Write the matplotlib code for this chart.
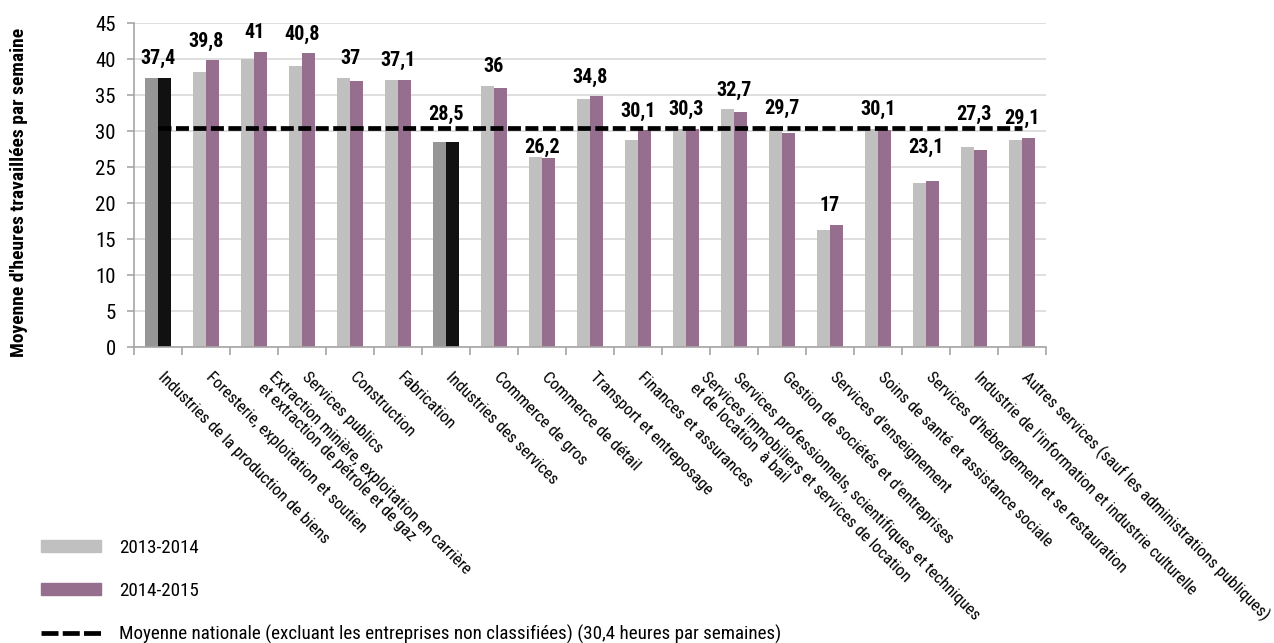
import matplotlib

matplotlib.use("Agg")

import matplotlib.pyplot as plt
import matplotlib.font_manager as fm
import numpy as np
from matplotlib.lines import Line2D
from matplotlib.patches import Patch


categories = [
    "Industries de la production de biens",
    "Foresterie, exploitation et soutien",
    "Extraction minière, exploitation en carrière\net extraction de pétrole et de gaz",
    "Services publics",
    "Construction",
    "Fabrication",
    "Industries des services",
    "Commerce de gros",
    "Commerce de détail",
    "Transport et entreposage",
    "Finances et assurances",
    "Services immobiliers et services de location\net de location  à bail",
    "Services professionnels, scientifiques et techniques",
    "Gestion de sociétés et d'entreprises",
    "Services d'enseignement",
    "Soins de santé et assistance sociale",
    "Services d'hébergement et se restauration",
    "Industrie de l'information et industrie culturelle",
    "Autres services (sauf les administrations publiques)",
]
hours_2013 = [37.4, 38.2, 40.0, 39.0, 37.4, 37.1, 28.5, 36.3, 26.4, 34.4,
              28.7, 30.3, 33.0, 30.5, 16.2, 30.3, 22.8, 27.8, 28.8]
hours_2014 = [37.4, 39.8, 41.0, 40.8, 37.0, 37.1, 28.5, 36.0, 26.2, 34.8,
              30.1, 30.3, 32.7, 29.7, 17.0, 30.1, 23.1, 27.3, 29.1]
aggregates = ["Industries de la production de biens", "Industries des services"]
national_avg = 30.4


def pick_font():
    # want a narrow family with a real (static) bold face
    faces = {}
    for f in fm.fontManager.ttflist:
        if "[" in f.fname:
            continue
        faces.setdefault(f.name, set()).add(f.weight)
    for name in ("Roboto Condensed", "PT Sans Narrow", "Asap Condensed",
                 "Archivo Narrow", "Barlow Semi Condensed"):
        w = faces.get(name, set())
        if 400 in w and 700 in w:
            return name
    return "DejaVu Sans"


FONT = pick_font()
plt.rcParams["font.family"] = [FONT, "DejaVu Sans"]

C_GRAY = "#C0C0C0"
C_PURPLE = "#966E8E"
C_DGRAY = "#969696"
C_BLACK = "#111111"


def main():
    fig = plt.figure(figsize=(12.74, 6.43), dpi=100)
    ax = fig.add_axes([0.1052, 0.4603, 0.7158, 0.5039])

    x = np.arange(len(categories))
    w = 0.28
    is_agg = [c in aggregates for c in categories]
    c13 = [C_DGRAY if a else C_GRAY for a in is_agg]
    c14 = [C_BLACK if a else C_PURPLE for a in is_agg]
    ax.bar(x - w / 2, hours_2013, w, color=c13, zorder=2)
    ax.bar(x + w / 2, hours_2014, w, color=c14, zorder=2)

    dash = (0, (2.75, 0.95))
    ax.plot([x[0], x[-1]], [national_avg, national_avg], color="black",
            lw=3.4, linestyle=dash, zorder=3)

    # value labels; the ones near the national average line sit just above
    # or just below it
    for i, (a, b) in enumerate(zip(hours_2013, hours_2014)):
        top = max(a, b)
        base = top + 1.9
        if top < 27 and base + 2.0 > national_avg - 6:
            base = 26.9
        elif base < national_avg + 0.6 and base + 2.0 > national_avg - 0.6:
            base = 31.5
        txt = f"{b:g}".replace(".", ",")
        ax.text(i, base, txt, ha="center", va="baseline", fontsize=14.5,
                fontweight="bold", zorder=4)

    ax.set_xlim(-0.5, len(categories) - 0.5)
    ax.set_ylim(0, 45)
    ax.set_yticks(np.arange(0, 46, 5))
    ax.yaxis.grid(True, color="#D9D9D9", lw=1.2, zorder=0)
    ax.set_axisbelow(True)
    ax.set_xticks(np.arange(-0.5, len(categories), 1.0))
    ax.set_xticklabels([])
    ax.tick_params(axis="x", length=6, width=1.2, color="#A6A6A6")
    ax.tick_params(axis="y", length=5, width=1.2, color="#A6A6A6",
                   labelsize=15, pad=8)
    for s in ("top", "right"):
        ax.spines[s].set_visible(False)
    for s in ("left", "bottom"):
        ax.spines[s].set_color("#A6A6A6")
        ax.spines[s].set_linewidth(1.2)

    for i, cat in enumerate(categories):
        extra = cat.count("\n")
        ax.annotate(cat, xy=(i, 0), xycoords=("data", "axes fraction"),
                    xytext=(2 + 10 * extra, -28 - 5 * extra),
                    textcoords="offset pixels",
                    rotation=-45, rotation_mode="anchor", ha="left",
                    va="center", fontsize=12.1, linespacing=1.0)

    fig.text(19 / 1274, 1 - 192 / 643, "Moyenne d'heures travaillées par semaine",
             rotation=90, ha="center", va="center", fontsize=14, fontweight="bold")

    handles = [
        Patch(color=C_GRAY),
        Patch(color=C_PURPLE),
        Line2D([], [], color="black", lw=3.4, linestyle=(0, (3.6, 0.9))),
    ]
    labels = [
        "2013-2014",
        "2014-2015",
        "Moyenne nationale (excluant les entreprises non classifiées) (30,4 heures par semaines)",
    ]
    fig.legend(handles, labels, loc="upper left",
               bbox_to_anchor=(41 / 1274, 1 - 539 / 643), frameon=False,
               fontsize=13.7, handlelength=3.15, handleheight=0.6,
               handletextpad=0.97, labelspacing=1.3, borderpad=0, borderaxespad=0)

    fig.savefig("out.png", dpi=100)
    plt.close(fig)


if __name__ == "__main__":
    main()
